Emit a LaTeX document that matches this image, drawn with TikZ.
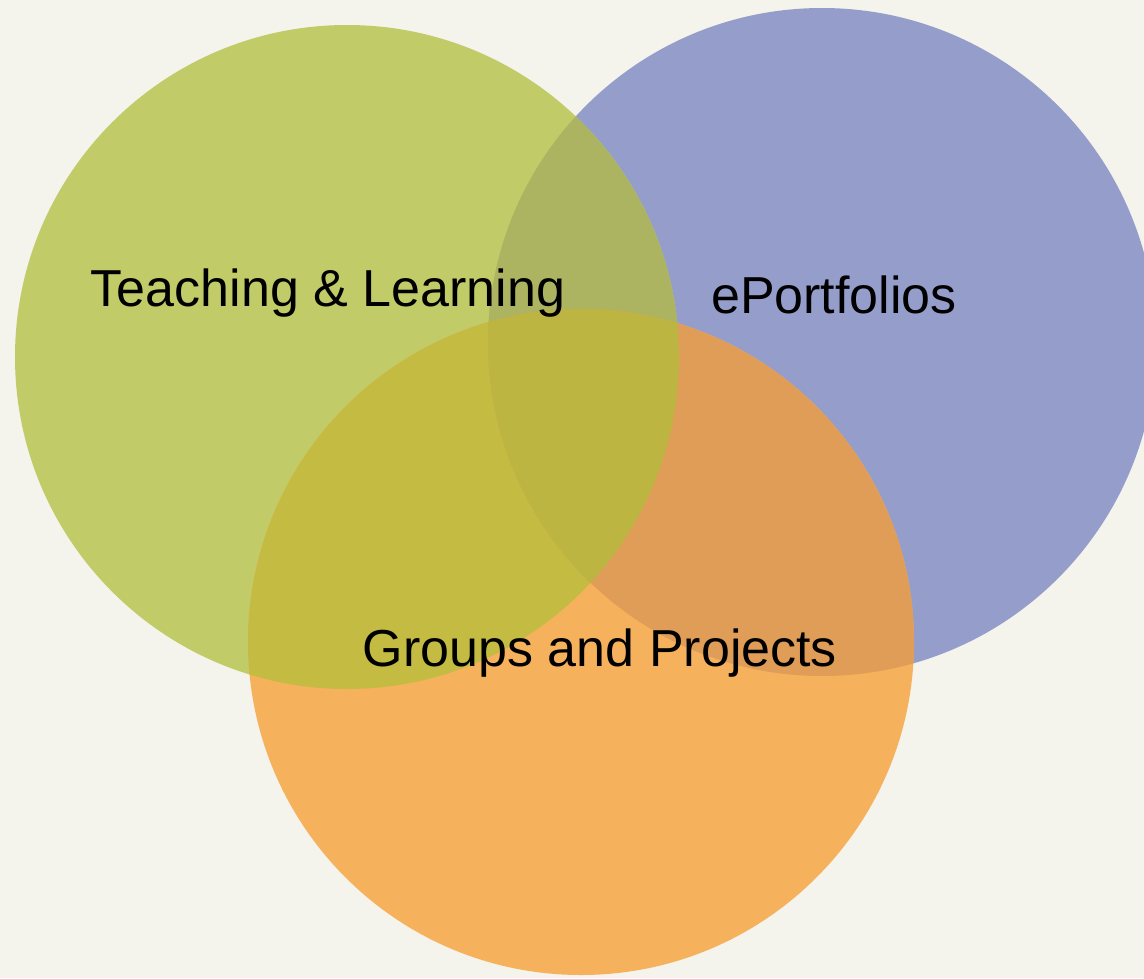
\documentclass[tikz,border=0pt]{standalone}
\usepackage{fontspec}
\setmainfont{Liberation Sans}
\definecolor{bgcol}{HTML}{F4F3EC}
\definecolor{teachcol}{HTML}{C1CB67}
\definecolor{portcol}{HTML}{959ECB}
\definecolor{groupcol}{HTML}{F6B15C}
\definecolor{teachport}{HTML}{ACB462}
\definecolor{teachgroup}{HTML}{C4BB42}
\definecolor{portgroup}{HTML}{E09D58}
\definecolor{allthree}{HTML}{BDB541}
\tikzset{label/.style={font=\fontsize{52}{62}\selectfont, anchor=base, inner sep=0pt}}
\begin{document}
\begin{tikzpicture}[x=1pt,y=-1pt]
          \fill[bgcol] (0,0) rectangle (1144,978);
          \useasboundingbox (0,0) rectangle (1144,978);
          \def\teach{(347,357) circle (332)}
          \def\port{(822,342) circle (334)}
          \def\group{(581,642) circle (333)}
          \fill[portcol]  \port;
          \fill[teachcol] \teach;
          \fill[groupcol] \group;
          %% overlaps
          \begin{scope} \clip \teach; \fill[teachport] \port; \end{scope}
          \begin{scope} \clip \teach; \fill[teachgroup] \group; \end{scope}
          \begin{scope} \clip \port; \fill[portgroup] \group; \end{scope}
          \begin{scope} \clip \teach; \clip \port; \fill[allthree] \group; \end{scope}
          \node[label] (teaching) at (328,306) {Teaching \& Learning};
          \node[label] (eportfolios) at (834,313) {ePortfolios};
          \node[label] (groups) at (600,666) {Groups and Projects};
        \end{tikzpicture}
\end{document}
